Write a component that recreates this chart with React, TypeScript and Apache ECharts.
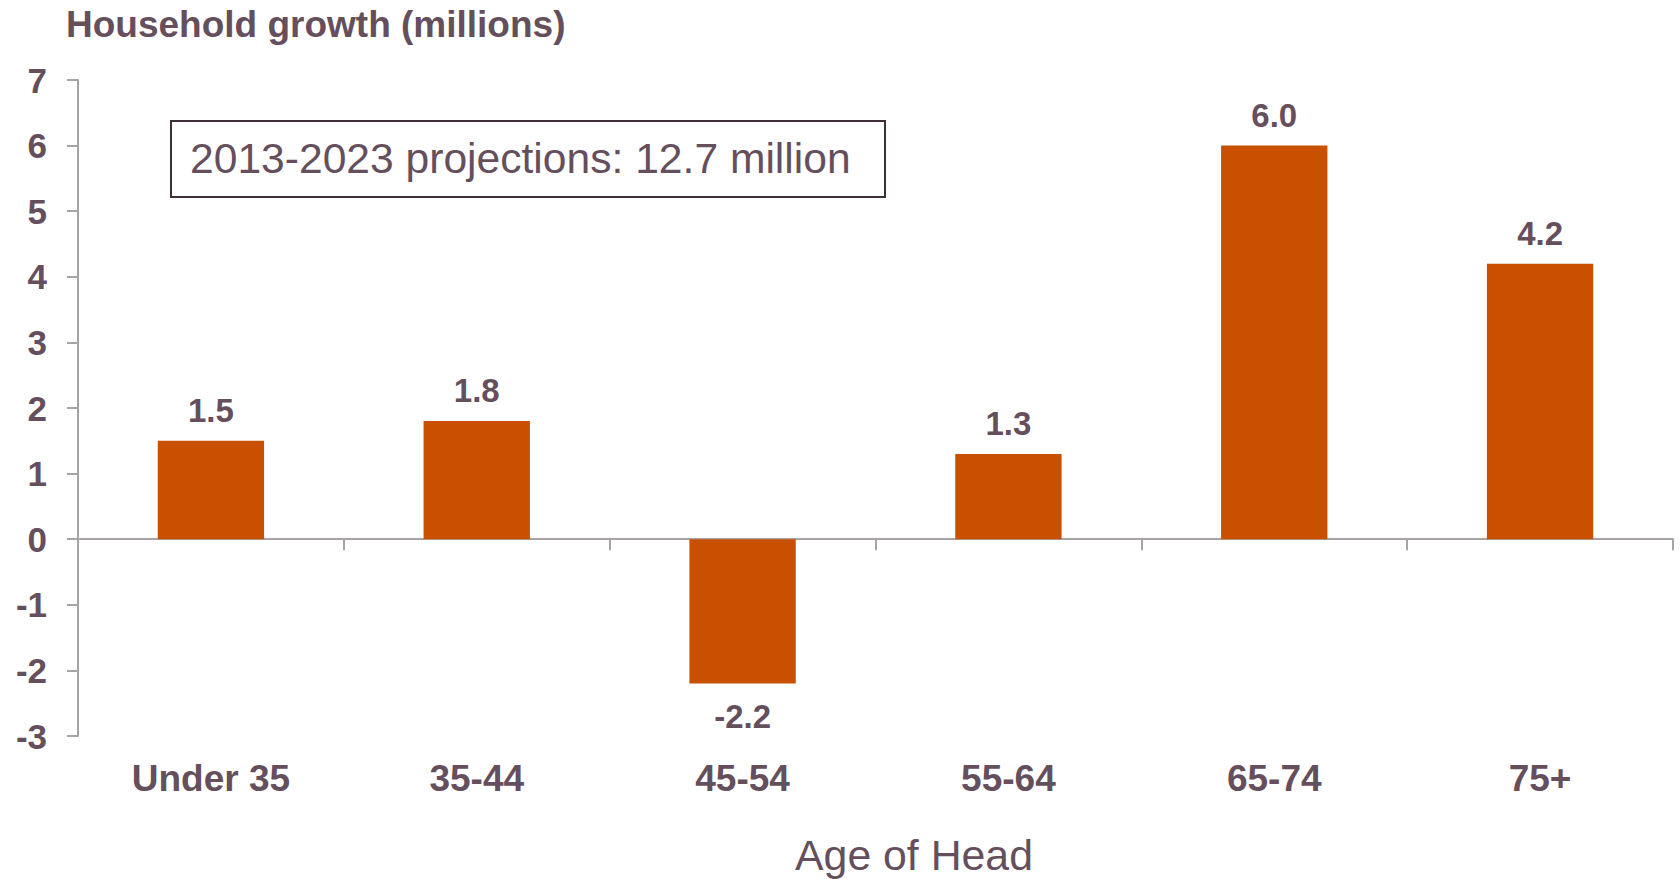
import React, { useEffect, useRef } from "react";
import * as echarts from "echarts";

const categories = ["Under 35", "35-44", "45-54", "55-64", "65-74", "75+"];
const growth = [1.5, 1.8, -2.2, 1.3, 6.0, 4.2];
const yMin = -3;
const yMax = 7;
const yStep = 1;
const titleText = "Household growth (millions)";
const boxText = "2013-2023 projections: 12.7 million";
const xName = "Age of Head";

const TEXT = "#654F5D";
const BAR = "#C85000";
const AXIS = "#A8A4A6";
const FONT = "'Liberation Sans', Arial, Helvetica, sans-serif";

export default function App() {
  const ref = useRef<HTMLDivElement>(null);
  useEffect(() => {
    if (!ref.current) return;
    const chart = echarts.init(ref.current, undefined, { renderer: "svg" });
    chart.setOption({
      animation: false,
      backgroundColor: "#ffffff",
      textStyle: { fontFamily: FONT },
      title: {
        text: titleText,
        left: 61,
        top: 1,
        textStyle: { fontFamily: FONT, fontSize: 37, fontWeight: "bold", color: TEXT },
      },
      grid: { left: 78, right: 7, top: 80, bottom: 143, containLabel: false },
      xAxis: [
        {
          type: "category",
          data: categories,
          gridIndex: 0,
          axisLine: { show: true, onZero: true, lineStyle: { color: AXIS, width: 2 } },
          axisTick: { show: true, length: 11, lineStyle: { color: AXIS, width: 2 } },
          axisLabel: { show: false },
          splitLine: { show: false },
        },
        {
          type: "category",
          data: categories,
          gridIndex: 0,
          position: "bottom",
          axisLine: { show: false, onZero: false },
          axisTick: { show: false },
          splitLine: { show: false },
          axisLabel: {
            show: true,
            margin: 24,
            fontFamily: FONT,
            fontSize: 37,
            fontWeight: "bold",
            color: TEXT,
          },
        },
      ],
      yAxis: {
        type: "value",
        min: yMin,
        max: yMax,
        interval: yStep,
        splitLine: { show: false },
        axisLine: { show: true, lineStyle: { color: AXIS, width: 2 } },
        axisTick: { show: true, length: 11, lineStyle: { color: AXIS, width: 2 } },
        axisLabel: {
          margin: 31,
          fontFamily: FONT,
          fontSize: 35,
          fontWeight: "bold",
          color: TEXT,
        },
      },
      series: [
        {
          type: "bar",
          xAxisIndex: 0,
          barWidth: "40%",
          itemStyle: { color: BAR },
          data: growth.map((v) => ({
            value: v,
            label:
              v < 0
                ? { position: "bottom", distance: 16 }
                : { position: "top", distance: 14 },
          })),
          label: {
            show: true,
            fontFamily: FONT,
            fontSize: 33,
            fontWeight: "bold",
            color: TEXT,
            formatter: (p: any) => Number(p.value).toFixed(1),
          },
        },
      ],
      graphic: [
        {
          type: "rect",
          shape: { x: 171, y: 121, width: 714, height: 76 },
          style: { fill: "#ffffff", stroke: "#3E3039", lineWidth: 2 },
          z: 10,
        },
        {
          type: "text",
          x: 190,
          y: 158,
          z: 11,
          style: {
            text: boxText,
            fontFamily: FONT,
            fontSize: 42.6,
            fill: TEXT,
            textAlign: "left",
            textVerticalAlign: "middle",
          },
        },
        {
          type: "text",
          x: 914,
          y: 855,
          style: {
            text: xName,
            fontFamily: FONT,
            fontSize: 42.8,
            fill: TEXT,
            textAlign: "center",
            textVerticalAlign: "middle",
          },
        },
      ],
    });
    return () => chart.dispose();
  }, []);
  return (
    <div
      ref={ref}
      style={{ position: "fixed", left: 0, top: 0, width: 1680, height: 879, background: "#fff" }}
    />
  );
}
